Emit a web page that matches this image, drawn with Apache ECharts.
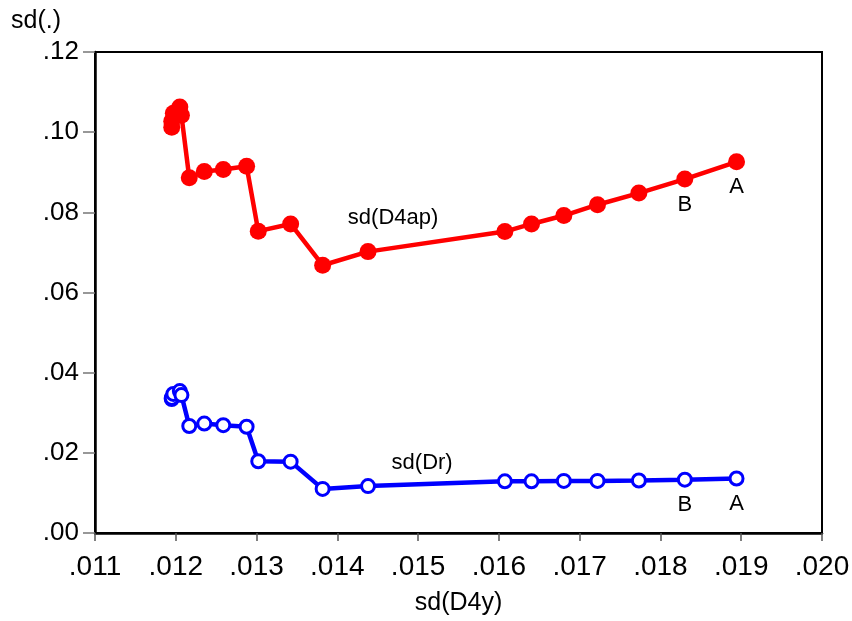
<!DOCTYPE html>
<html>
<head>
<meta charset="utf-8">
<script src="https://cdn.jsdelivr.net/npm/echarts@6/dist/echarts.min.js"></script>
<style>
  html, body { margin: 0; padding: 0; background: #fff; }
  #chart { width: 852px; height: 621px; }
</style>
</head>
<body>
<div id="chart"></div>
<script>
// sd(D4y) on the x axis, shared by both curves
const xVals = [0.01195, 0.01195, 0.01197, 0.01205, 0.01207, 0.012167, 0.012353, 0.012588,
  0.012877, 0.013021, 0.013422, 0.013818, 0.01438, 0.016074, 0.016404, 0.016804,
  0.017221, 0.017733, 0.018302, 0.018942]
const d4ap = [0.1012, 0.1027, 0.1047, 0.1063, 0.1042, 0.0886, 0.0902, 0.0907,
  0.0915, 0.0753, 0.0771, 0.0668, 0.0702, 0.0752, 0.0771, 0.0792,
  0.0819, 0.0848, 0.0883, 0.0926]
const dr = [0.0334, 0.0337, 0.0347, 0.0354, 0.0344, 0.0267, 0.0273, 0.0269,
  0.0265, 0.0179, 0.0178, 0.0110, 0.0117, 0.0129, 0.0129, 0.0130,
  0.0130, 0.0131, 0.0133, 0.0136]
const tags = ['', '', '', '', '', '', '', '', '', '', '', '', '', '', '', '', '', '', 'B', 'A']
// curve names written inside the plot
const notes = [
  { name: 'sd(D4ap)', value: [0.01469, 0.0785] },
  { name: 'sd(Dr)', value: [0.01505, 0.0174] }
]

const font = 'Liberation Sans, Arial, sans-serif'

function build (ys) {
  return xVals.map((x, i) => ({
    value: [x, ys[i]],
    label: { show: tags[i] !== '', formatter: tags[i] }
  }))
}

const tagLabel = {
  position: 'bottom',
  distance: 6,
  color: '#000',
  fontSize: 22,
  fontFamily: font
}

const chart = echarts.init(document.getElementById('chart'))
chart.setOption({
  animation: false,
  backgroundColor: '#fff',
  title: {
    text: 'sd(.)',
    left: 6,
    top: 4,
    textStyle: { fontSize: 25, fontWeight: 'normal', color: '#000', fontFamily: font }
  },
  grid: {
    left: 95,
    right: 30,
    top: 52,
    bottom: 88,
    outerBoundsMode: 'none',
    containLabel: false,
    show: true,
    borderColor: '#000',
    borderWidth: 2
  },
  xAxis: {
    type: 'value',
    min: 0.011,
    max: 0.020,
    interval: 0.001,
    name: 'sd(D4y)',
    nameLocation: 'middle',
    nameGap: 58,
    nameTextStyle: { fontSize: 25, color: '#000', fontFamily: font },
    axisLine: { show: true, onZero: false, lineStyle: { color: '#000', width: 2.5 } },
    axisTick: { show: true, length: 8, lineStyle: { color: '#555', width: 1.5 } },
    axisLabel: {
      margin: 20,
      fontSize: 28,
      color: '#000',
      fontFamily: font,
      formatter: v => v.toFixed(3).replace(/^0/, '')
    },
    splitLine: { show: false }
  },
  yAxis: {
    type: 'value',
    min: 0,
    max: 0.12,
    interval: 0.02,
    axisLine: { show: true, lineStyle: { color: '#000', width: 2.5 } },
    axisTick: { show: true, length: 12, lineStyle: { color: '#777', width: 1.5 } },
    axisLabel: {
      margin: 16,
      fontSize: 26,
      color: '#000',
      fontFamily: font,
      formatter: v => v.toFixed(2).replace(/^0/, '')
    },
    splitLine: { show: false }
  },
  series: [
    {
      name: 'sd(D4ap)',
      type: 'line',
      data: build(d4ap),
      symbol: 'circle',
      symbolSize: 17,
      lineStyle: { color: '#ff0000', width: 4.5 },
      itemStyle: { color: '#ff0000', borderWidth: 0 },
      label: tagLabel,
      z: 3
    },
    {
      name: 'sd(Dr)',
      type: 'line',
      data: build(dr),
      symbol: 'circle',
      symbolSize: 13,
      showAllSymbol: true,
      lineStyle: { color: '#0000ff', width: 4.5 },
      itemStyle: { color: '#fff', borderColor: '#0000ff', borderWidth: 3 },
      label: tagLabel,
      z: 3
    },
    {
      type: 'scatter',
      data: notes,
      symbolSize: 0,
      silent: true,
      itemStyle: { opacity: 1 },
      label: {
        show: true,
        position: 'inside',
        formatter: p => p.name,
        color: '#000',
        opacity: 1,
        fontSize: 22,
        fontFamily: font
      }
    }
  ]
})
</script>
</body>
</html>
